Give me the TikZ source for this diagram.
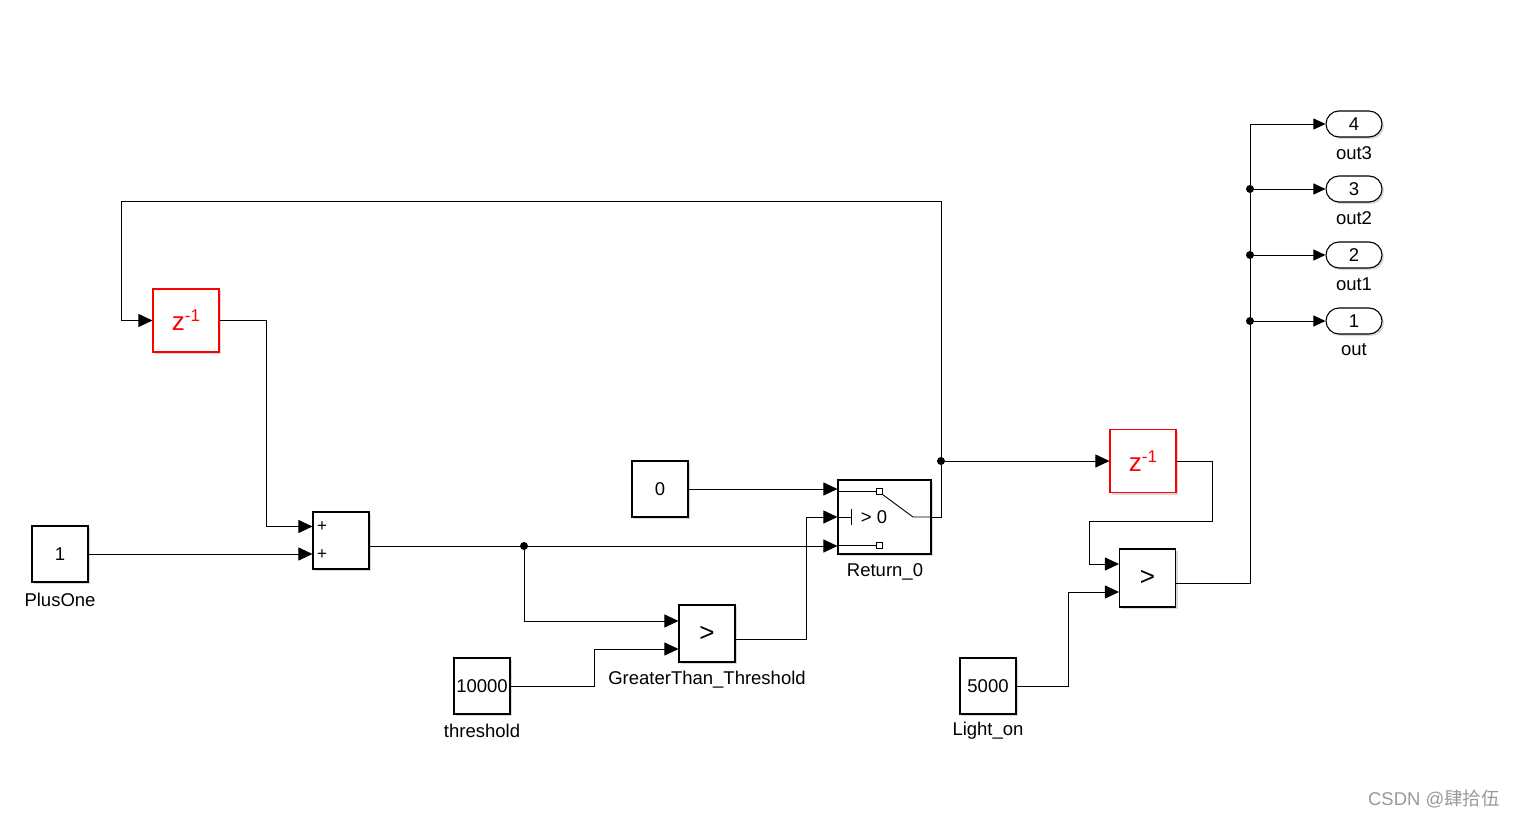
\documentclass[tikz,border=0pt]{standalone}
\usepackage{fontspec}
\setmainfont{Liberation Sans}
\newfontfamily\cjkfont{Noto Sans CJK SC}
\usetikzlibrary{arrows.meta,shadows}
\tikzset{
  blk/.style={draw=black, fill=white, line width=1.1pt, minimum width=56pt, minimum height=56pt, inner sep=0pt,
    drop shadow={shadow xshift=2pt, shadow yshift=-2pt, opacity=0.3}},
  delay/.style={blk, draw=red, text=red, minimum width=66pt, minimum height=63pt},
  outport/.style={draw=black, fill=white, line width=1.1pt, rounded corners=13pt, minimum width=56pt, minimum height=26pt,
    inner sep=0pt, drop shadow={shadow xshift=2pt, shadow yshift=-2pt, opacity=0.3}},
  lbl/.style={inner sep=0pt},
  wire/.style={line width=0.9pt},
  sig/.style={wire, -{Triangle[length=14pt,width=13pt]}},
  osig/.style={wire, -{Triangle[length=12pt,width=11pt]}},
  dot/.style={circle, fill=black, inner sep=0pt, minimum size=8pt},
  pin/.style={draw=black, fill=white, line width=0.7pt, minimum size=6pt, inner sep=0pt},
}
\newcommand{\zinv}{{\fontsize{26}{26}\selectfont z}{\fontsize{17}{17}\selectfont\raisebox{9pt}{-1}}}
\begin{document}
\begin{tikzpicture}[x=1pt, y=-1pt, every node/.style={font=\fontsize{18.5}{22}\selectfont}]
    \useasboundingbox (0,0) rectangle (1515,818);

    % blocks
    \node[blk] (plusone) at (60,554) {1};
    \node[lbl] (plusonelbl) at (60,600) {PlusOne};
    \node[blk, minimum height=57pt] (sum) at (341,540.5) {};
    \node[lbl, font=\fontsize{17}{17}\selectfont] (plus1) at (322,527) {+};
    \node[lbl, font=\fontsize{17}{17}\selectfont] (plus2) at (322,555) {+};
    \node[delay] (zup) at (186,320.5) {\zinv};
    \node[blk] (zero) at (660,489) {0};
    \node[blk, minimum width=93pt, minimum height=74pt] (sw) at (884.5,517) {};
    \node[lbl] (swlbl) at (885,572) {Return\_0};
    \node[blk, minimum height=57pt] (gt) at (707,633.5) {\fontsize{26}{26}\selectfont >};
    \node[lbl] (gtlbl) at (707,680) {GreaterThan\_Threshold};
    \node[blk] (thr) at (482,686) {10000};
    \node[lbl] (thrlbl) at (482,731) {threshold};
    \node[delay] (zright) at (1143,461) {\zinv};
    \node[blk, minimum height=58pt] (cmp) at (1147.5,578) {\fontsize{26}{26}\selectfont >};
    \node[blk] (light) at (988,686) {5000};
    \node[lbl] (lightlbl) at (988,731) {Light\_on};

    % outports
    \node[outport] (o4) at (1354,124) {4};
    \node[lbl] (o4lbl) at (1354,153) {out3};
    \node[outport] (o3) at (1354,189) {3};
    \node[lbl] (o3lbl) at (1354,218) {out2};
    \node[outport] (o2) at (1354,255) {2};
    \node[lbl] (o2lbl) at (1354,284) {out1};
    \node[outport] (o1) at (1354,321) {1};
    \node[lbl] (o1lbl) at (1354,350) {out};

    % switch inside
    \node[pin] (sq1) at (879,491) {};
    \node[pin] (sq2) at (879,545) {};
    \draw[wire] (sq1.west -| sw.west) -- (sq1.west);
    \draw[wire] (sq2.west -| sw.west) -- (sq2.west);
    \draw[wire] (sq1.south east) -- (913,517) -- (sw.east);
    \draw[wire] (sw.west) -- (851,517);
    \draw[wire] (851,509) -- (851,525);
    \node[lbl] (swthr) at (874,517) {> 0};

    % ports
    \coordinate (sumin1) at ([yshift=14pt]sum.west);
    \coordinate (sumout) at ([yshift=-5.5pt]sum.east);
    \coordinate (swin1) at ([yshift=26pt]sw.west);
    \coordinate (swin3) at ([yshift=-28pt]sw.west);
    \coordinate (gtin1) at ([yshift=12.5pt]gt.west);
    \coordinate (gtin2) at ([yshift=-15.5pt]gt.west);
    \coordinate (gtout) at ([yshift=-5.5pt]gt.east);
    \coordinate (cmpin1) at ([yshift=14pt]cmp.west);
    \coordinate (cmpin2) at ([yshift=-14pt]cmp.west);
    \coordinate (cmpout) at ([yshift=-5pt]cmp.east);

    % branch points
    \node[dot] (br1) at (524,546) {};
    \node[dot] (br2) at (941,461) {};
    \node[dot] (d1) at (1250,321) {};
    \node[dot] (d2) at (1250,255) {};
    \node[dot] (d3) at (1250,189) {};
    \coordinate (fb1) at (941,201);
    \coordinate (fb2) at (121,201);
    \coordinate (c1) at (1212,521);
    \coordinate (c2) at (1089,521);

    \draw[sig] (plusone.east) -- (plusone.east -| sum.west);
    \draw[sig] (zup.east) -- ++(47,0) |- (sumin1);
    \draw[sig] (sumout) -- (sumout -| swin3);
    \draw[sig] (br1) |- (gtin1);
    \draw[sig] (thr.east) -- ++(84,0) |- (gtin2);
    \draw[sig] (gtout) -- ++(71,0) |- (sw.west);
    \draw[sig] (zero.east) -- (zero.east -| swin1);

    \draw[wire] (sw.east) -| (br2);
    \draw[sig] (br2) -- (fb1) -- (fb2) |- (zup.west);
    \draw[sig] (br2) -- (zright.west);

    \draw[sig] (zright.east) -| (c1) -- (c2) |- (cmpin1);
    \draw[sig] (light.east) -- ++(52,0) |- (cmpin2);

    \draw[wire] (cmpout) -| (d1) -- (d2) -- (d3);
    \draw[osig] (d3) |- (o4.west);
    \draw[osig] (d3) -- (o3.west);
    \draw[osig] (d2) -- (o2.west);
    \draw[osig] (d1) -- (o1.west);

    \node[lbl, text=black!40] (wm) at (1434,799) {CSDN @{\cjkfont 肆拾伍}};
\end{tikzpicture}
\end{document}
